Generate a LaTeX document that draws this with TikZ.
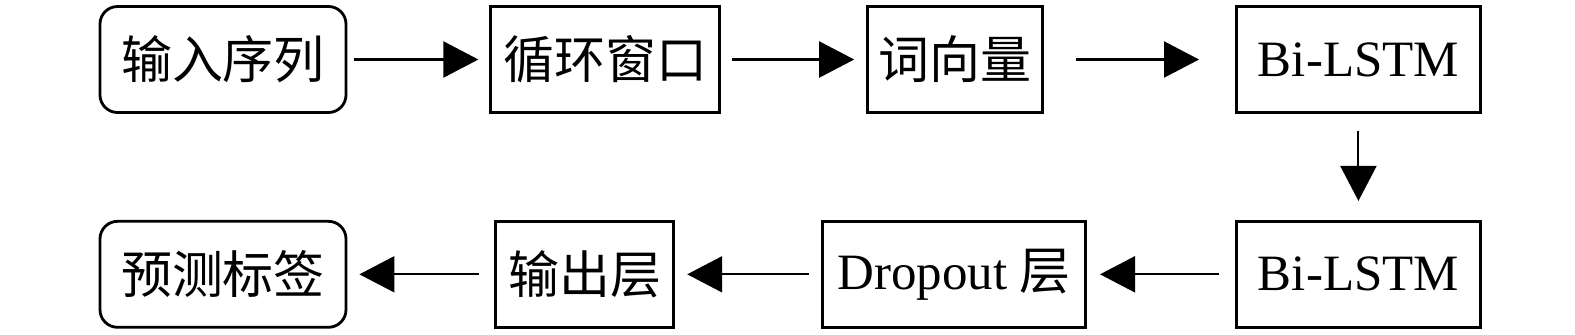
\documentclass[tikz,border=0pt]{standalone}
\usepackage{fontspec}
\setmainfont{Liberation Serif}
\newfontfamily\cjk{Noto Sans CJK SC}
\usetikzlibrary{positioning,arrows.meta}

\begin{document}
\begin{tikzpicture}[
  font=\fontsize{14.5}{17}\selectfont,
  kuang/.style={draw, line width=0.8pt, minimum height=1.06cm, inner sep=0pt, align=center},
  yuankuang/.style={kuang, rounded corners=5pt},
  jiantou/.style={-{Triangle[length=3.5mm, width=3.6mm]}, line width=0.6pt},
  node distance=1.45cm]
\useasboundingbox (0,0) rectangle (15.75,3.34);
% ---- primeira linha
\node[yuankuang, minimum width=2.46cm] (xulie) at (2.23,2.745) {\cjk 输入序列};
\node[kuang, minimum width=2.29cm, right=1.42cm of xulie] (chuangkou) {\cjk 循环窗口};
\node[kuang, minimum width=1.75cm, right=of chuangkou] (cixiang) {\cjk 词向量};
\node[kuang, minimum width=2.44cm, right=1.91cm of cixiang] (lstma) {Bi-LSTM};
% ---- segunda linha
\node[kuang, minimum width=2.44cm, below=1.06cm of lstma] (lstmb) {Bi-LSTM};
\node[kuang, minimum width=2.63cm, left=1.48cm of lstmb] (dropout) {Dropout {\cjk 层}};
\node[kuang, minimum width=1.78cm, left=1.46cm of dropout] (shuchu) {\cjk 输出层};
\node[yuankuang, minimum width=2.46cm, left=1.47cm of shuchu] (biaoqian) {\cjk 预测标签};
% ---- setas
\draw[jiantou, shorten <=0.07cm, shorten >=0.11cm] (xulie) -- (chuangkou);
\draw[jiantou, shorten <=0.11cm, shorten >=0.12cm] (chuangkou) -- (cixiang);
\draw[jiantou, shorten <=0.32cm, shorten >=0.36cm] (cixiang) -- (lstma);
\draw[jiantou, shorten <=0.17cm, shorten >=0.19cm] (lstma) -- (lstmb);
\draw[jiantou, shorten <=0.16cm, shorten >=0.13cm] (lstmb) -- (dropout);
\draw[jiantou, shorten <=0.12cm, shorten >=0.12cm] (dropout) -- (shuchu);
\draw[jiantou, shorten <=0.15cm, shorten >=0.12cm] (shuchu) -- (biaoqian);
\end{tikzpicture}
\end{document}
